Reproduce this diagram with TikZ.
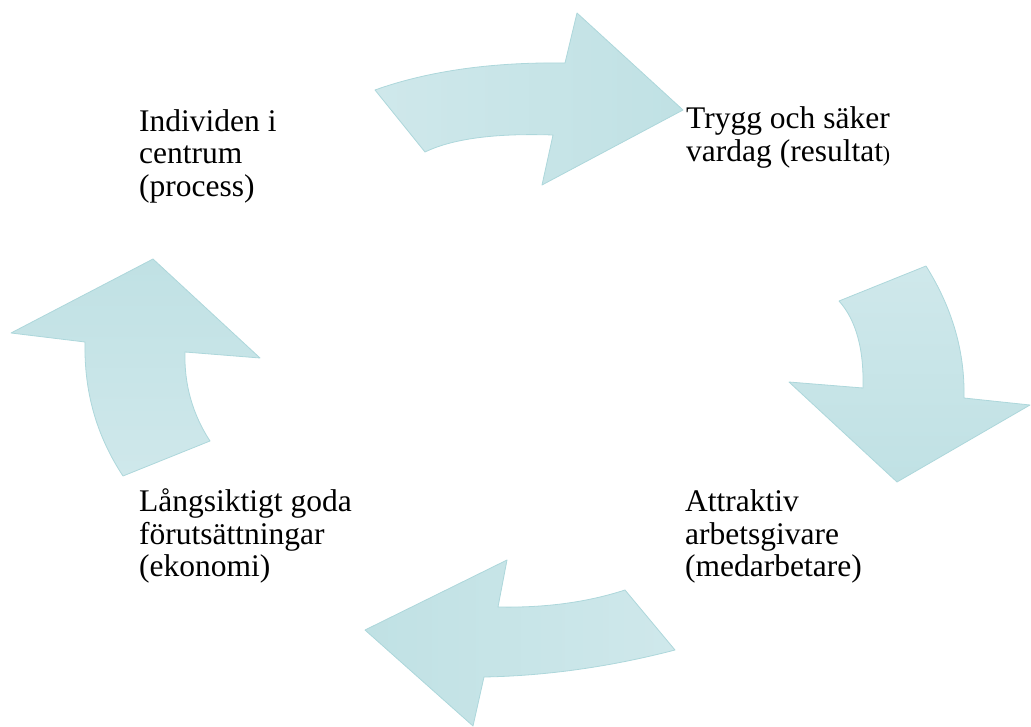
\documentclass[tikz,border=0pt]{standalone}
\usepackage{fontspec}
\setmainfont{Liberation Serif}
\definecolor{pilljus}{HTML}{CFE8EB}
\definecolor{pilmork}{HTML}{C0E1E4}
\definecolor{pilkant}{HTML}{ADD7DB}
\begin{document}
\begin{tikzpicture}[x=1pt,y=-1pt,
  pil/.style={draw=pilkant,line width=0.8pt,line join=round},
  txt/.style={anchor=base west,inner sep=0pt,align=left,font=\fontsize{31.5}{32.5}\selectfont}]
\useasboundingbox (0,0) rectangle (1031,727);
% arrows
\path[pil,left color=pilljus,right color=pilmork] (375,90) .. controls (428,71) and (492,62) .. (565,63) -- (577,13) -- (683,110) -- (542,185) -- (553,135) .. controls (494,133) and (452,139) .. (425,152) -- cycle;
\path[pil,top color=pilljus,bottom color=pilmork] (926,266) .. controls (953,309) and (965,353) .. (964,398) -- (1030,405) -- (897,482) -- (789,382) -- (863,388) .. controls (864,349) and (856,320) .. (839,301) -- cycle;
\path[pil,right color=pilljus,left color=pilmork] (675,650) .. controls (602,669) and (538,676) .. (484,677) -- (473,726) -- (365,630) -- (507,560) -- (498,607) .. controls (546,608) and (588,602) .. (625,590) -- cycle;
\path[pil,bottom color=pilljus,top color=pilmork] (123,476) .. controls (96,435) and (84,391) .. (85,342) -- (11,333) -- (153,259) -- (260,358) -- (185,352) .. controls (184,385) and (193,415) .. (210,441) -- cycle;
% texts
\node[txt] (ind) at (139,196.5) {Individen i\\centrum\\(process)};
\node[txt] (tryg) at (686,161.5) {Trygg och säker\\vardag (resultat{\fontsize{22}{24}\selectfont)}};
\node[txt] (attr) at (685,576.5) {Attraktiv\\arbetsgivare\\(medarbetare)};
\node[txt] (lang) at (139,576.5) {Långsiktigt goda\\förutsättningar\\(ekonomi)};
\end{tikzpicture}
\end{document}
